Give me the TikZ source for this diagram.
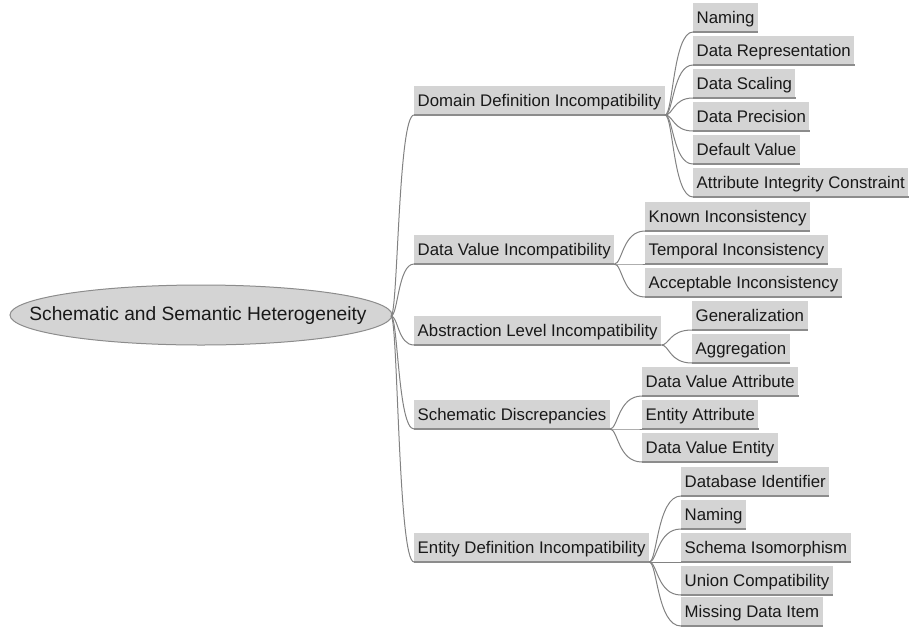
\documentclass[tikz,border=0pt]{standalone}
\usepackage{fontspec}
\setmainfont{Liberation Sans}
\definecolor{boxfill}{RGB}{212,212,212}
\definecolor{rulegray}{RGB}{140,140,140}
\definecolor{linkgray}{RGB}{130,130,130}
\definecolor{txt}{RGB}{25,25,25}
\tikzset{
  topic/.style={fill=boxfill, anchor=south west, inner xsep=3.5pt, inner ysep=0pt,
    minimum height=28.5pt, text height=12pt, text depth=0pt,
    font=\fontsize{16.8}{18}\selectfont, text=txt},
  uline/.style={draw=rulegray, line width=1.4pt},
  link/.style={draw=linkgray, line width=1pt},
}
\begin{document}
\begin{tikzpicture}[x=1pt,y=-1pt]
\useasboundingbox (0,0) rectangle (912,627);

% central topic
\draw[fill=boxfill, draw=rulegray, line width=1pt] (201,315) ellipse [x radius=191, y radius=30];
\node[font=\fontsize{19.2}{22}\selectfont, text=txt, inner sep=0pt] (root) at (198,316) {Schematic and Semantic Heterogeneity};
\coordinate (rootend) at (391,316);
\coordinate (rootk) at (398,316);

% main branches
\node[topic] (d) at (414,115) {Domain Definition Incompatibility};
\node[topic] (v) at (414,264) {Data Value Incompatibility};
\node[topic] (a) at (414,345) {Abstraction Level Incompatibility};
\node[topic] (s) at (414,429) {Schematic Discrepancies};
\node[topic] (e) at (414,562) {Entity Definition Incompatibility};

% sub-topics
\node[topic] (d1) at (693,32)  {Naming};
\node[topic] (d2) at (693,65)  {Data Representation};
\node[topic] (d3) at (693,98)  {Data Scaling};
\node[topic] (d4) at (693,131) {Data Precision};
\node[topic] (d5) at (693,164) {Default Value};
\node[topic] (d6) at (693,197) {Attribute Integrity Constraint};

\node[topic] (v1) at (645,231) {Known Inconsistency};
\node[topic] (v2) at (645,264) {Temporal Inconsistency};
\node[topic] (v3) at (645,297) {Acceptable Inconsistency};

\node[topic] (a1) at (692,330) {Generalization};
\node[topic] (a2) at (692,363) {Aggregation};

\node[topic] (s1) at (642,396) {Data Value Attribute};
\node[topic] (s2) at (642,429) {Entity Attribute};
\node[topic] (s3) at (642,462) {Data Value Entity};

\node[topic] (e1) at (681,496) {Database Identifier};
\node[topic] (e2) at (681,529) {Naming};
\node[topic] (e3) at (681,562) {Schema Isomorphism};
\node[topic] (e4) at (681,595) {Union Compatibility};
\node[topic] (e5) at (681,626) {Missing Data Item};

% underlines
\foreach \n in {d,v,a,s,e,d1,d2,d3,d4,d5,d6,v1,v2,v3,a1,a2,s1,s2,s3,e1,e2,e3,e4,e5}
  \draw[uline] (\n.south west) -- (\n.south east);

% connectors from the central topic
\foreach \c in {d,v,a,s,e}
  \draw[link] (rootend) .. controls (rootk) and (rootk |- \c.south west) .. (\c.south west);

% connectors from each branch to its sub-topics
\foreach \p/\kids in {d/{d1,d2,d3,d4,d5,d6}, v/{v1,v2,v3}, a/{a1,a2}, s/{s1,s2,s3}, e/{e1,e2,e3,e4,e5}} {
  \coordinate (\p k) at ([xshift=8pt]\p.south east);
  \foreach \c in \kids
    \draw[link] (\p.south east) .. controls (\p k) and (\p k |- \c.south west) .. (\c.south west);
}
\end{tikzpicture}
\end{document}
